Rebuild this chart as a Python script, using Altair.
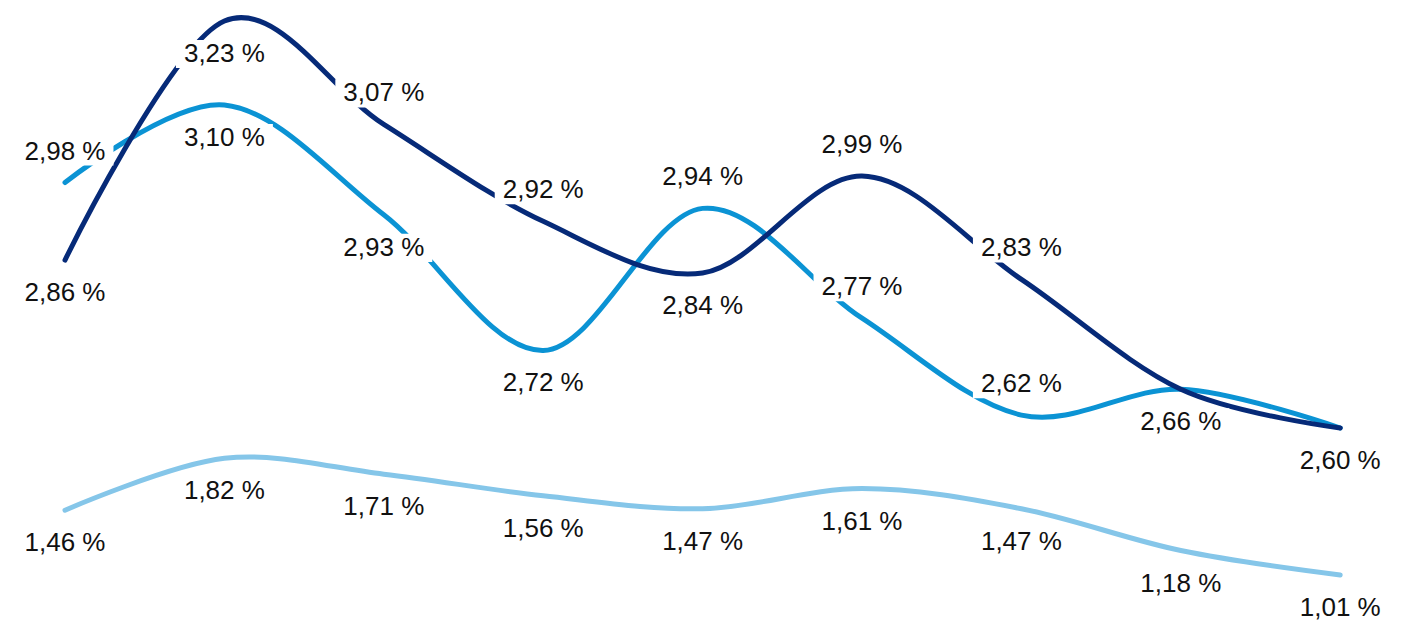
import altair as alt
import pandas as pd

idx = list(range(9))
dark_vals = [2.86, 3.23, 3.07, 2.92, 2.84, 2.99, 2.83, 2.66, 2.60]
mid_vals = [2.98, 3.10, 2.93, 2.72, 2.94, 2.77, 2.62, 2.66, 2.60]
light_vals = [1.46, 1.82, 1.71, 1.56, 1.47, 1.61, 1.47, 1.18, 1.01]
dark_pos = ["below", "below", "above", "above", "below", "above", "above", "below", "below"]
mid_pos = ["above", "below", "below", "below", "above", "above", "above", "below", "below"]
light_pos = ["below"] * 9

DARK = "#062a78"
MID = "#0b93d4"
LIGHT = "#85c6e9"


def frame(vals, pos, series):
    return pd.DataFrame({
        "i": idx,
        "v": vals,
        "pos": pos,
        "series": series,
        "label": [f"{v:.2f}".replace(".", ",") + " %" for v in vals],
    })


df_dark = frame(dark_vals, dark_pos, "dark")
df_mid = frame(mid_vals, mid_pos, "mid")
df_light = frame(light_vals, light_pos, "light")
# the two upper series share their last two labels; show each once
df_primary = pd.concat([df_mid[df_mid["i"] < 7], df_dark], ignore_index=True)

x_enc = alt.X("i:Q", scale=alt.Scale(domain=[-0.3576, 8.3312], nice=False, zero=False), axis=None)
y_primary = alt.Y("v:Q", scale=alt.Scale(domain=[2.3105, 3.2502], nice=False, zero=False), axis=None)
y_secondary = alt.Y("v:Q", scale=alt.Scale(domain=[0.7322, 4.9475], nice=False, zero=False), axis=None)

FONT = "Liberation Sans"
BOX = "M-1,-0.29H1V0.29H-1Z"


def line(df, color, yenc):
    return alt.Chart(df).mark_line(
        interpolate="cardinal", strokeWidth=5, strokeCap="round", color=color
    ).encode(x=x_enc, y=yenc)


def labels(df, yenc):
    layers = []
    for p, off in (("above", -31), ("below", 33)):
        sub = df[df["pos"] == p]
        if len(sub) == 0:
            continue
        box = alt.Chart(sub).mark_point(
            shape=BOX, size=9400, filled=True, fill="white", strokeWidth=0,
            opacity=1, yOffset=off
        ).encode(x=x_enc, y=yenc)
        txt = alt.Chart(sub).mark_text(
            font=FONT, fontSize=26, color="#111111", baseline="middle",
            align="center", yOffset=off
        ).encode(x=x_enc, y=yenc, text="label:N")
        layers += [box, txt]
    return layers


chart = alt.layer(
    line(df_mid, MID, y_primary),
    line(df_dark, DARK, y_primary),
    line(df_light, LIGHT, y_secondary),
    *labels(df_primary, y_primary),
    *labels(df_light, y_secondary),
).resolve_scale(y="independent").properties(
    width=1385, height=607,
    padding={"left": 0, "top": 0, "right": 0, "bottom": 8},
    autosize=alt.AutoSizeParams(type="none"),
).configure(background="white").configure_view(stroke=None)

chart.save("out.html", embed_options={"renderer": "svg", "actions": False})
